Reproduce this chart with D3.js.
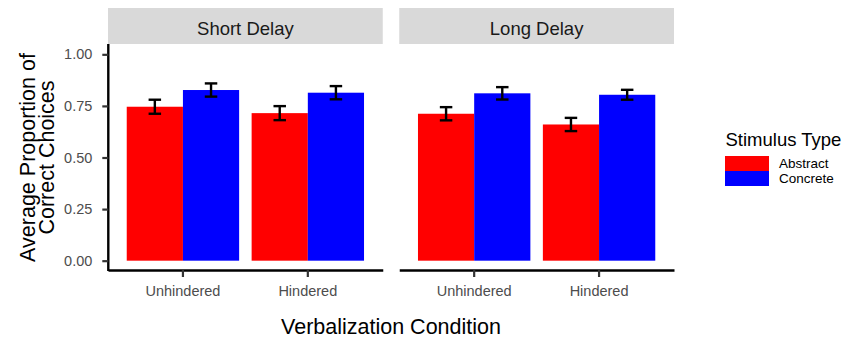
<!DOCTYPE html>
<html>
<head>
<meta charset="utf-8">
<script src="https://cdn.jsdelivr.net/npm/d3@7"></script>
<style>
  html, body { margin: 0; padding: 0; background: #fff; }
  svg { display: block; font-family: "Liberation Sans", Arial, sans-serif; }
</style>
</head>
<body>
<svg id="chart" width="845" height="338"></svg>
<script>
// Facets, x categories and fill groups
const delays = ["Short Delay", "Long Delay"];
const conditions = ["Unhindered", "Hindered"];
const stimulusTypes = ["Abstract", "Concrete"];

// Mean proportion correct, per condition (Unhindered, Hindered)
const shortAbstract = [0.746, 0.715];
const shortConcrete = [0.827, 0.814];
const longAbstract = [0.712, 0.660];
const longConcrete = [0.811, 0.804];

// Standard errors, same order
const shortAbstractSE = [0.034, 0.034];
const shortConcreteSE = [0.032, 0.032];
const longAbstractSE = [0.032, 0.032];
const longConcreteSE = [0.030, 0.024];

const yTicks = [0, 0.25, 0.5, 0.75, 1.0];

const colors = { Abstract: "#ff0000", Concrete: "#0000ff" };

const means = {
  "Short Delay": { Abstract: shortAbstract, Concrete: shortConcrete },
  "Long Delay": { Abstract: longAbstract, Concrete: longConcrete }
};
const ses = {
  "Short Delay": { Abstract: shortAbstractSE, Concrete: shortConcreteSE },
  "Long Delay": { Abstract: longAbstractSE, Concrete: longConcreteSE }
};

const rows = [];
delays.forEach(d => conditions.forEach((c, i) => stimulusTypes.forEach(t => {
  rows.push({ delay: d, condition: c, type: t, mean: means[d][t][i], se: ses[d][t][i] });
})));

const svg = d3.select("#chart");

// Layout
const panelTop = 44, panelBottom = 271;
const stripTop = 8;
const panelsLeft = 108, panelsRight = 674;

const panelX = d3.scaleBand().domain(delays).range([panelsLeft, panelsRight]).paddingInner(0.0566);
const panelW = panelX.bandwidth();

const y = d3.scaleLinear().domain([-0.05, 1.05]).range([panelBottom, panelTop]);

const x = d3.scaleBand().domain(conditions).range([0, panelW]).paddingInner(0.1).paddingOuter(0.15);
const xType = d3.scaleBand().domain(stimulusTypes).range([0, x.bandwidth()]);

const textDark = "#1a1a1a", tickGrey = "#4d4d4d";

delays.forEach((d, pi) => {
  const g = svg.append("g").attr("transform", `translate(${panelX(d)},0)`);

  // Strip
  g.append("rect")
    .attr("x", 0).attr("y", stripTop)
    .attr("width", panelW).attr("height", panelTop - stripTop)
    .attr("fill", "#d9d9d9");
  g.append("text")
    .attr("x", panelW / 2).attr("y", 35)
    .attr("text-anchor", "middle")
    .attr("font-size", 18.5)
    .attr("fill", textDark)
    .text(d);

  const data = rows.filter(r => r.delay === d);

  // Bars
  g.selectAll("rect.bar").data(data).enter().append("rect")
    .attr("class", "bar")
    .attr("x", r => x(r.condition) + xType(r.type))
    .attr("width", xType.bandwidth())
    .attr("y", r => y(r.mean))
    .attr("height", r => y(0) - y(r.mean))
    .attr("fill", r => colors[r.type]);

  // Error bars
  const capHalf = x.step() * 0.05;
  const eb = g.selectAll("g.err").data(data).enter().append("g")
    .attr("class", "err")
    .attr("stroke", "#000").attr("stroke-width", 2.4).attr("fill", "none");
  const cx = r => x(r.condition) + xType(r.type) + xType.bandwidth() / 2;
  eb.append("line")
    .attr("x1", cx).attr("x2", cx)
    .attr("y1", r => y(r.mean + r.se)).attr("y2", r => y(r.mean - r.se));
  eb.append("line")
    .attr("x1", r => cx(r) - capHalf).attr("x2", r => cx(r) + capHalf)
    .attr("y1", r => y(r.mean + r.se)).attr("y2", r => y(r.mean + r.se));
  eb.append("line")
    .attr("x1", r => cx(r) - capHalf).attr("x2", r => cx(r) + capHalf)
    .attr("y1", r => y(r.mean - r.se)).attr("y2", r => y(r.mean - r.se));

  // X axis
  const xAxis = g.append("g")
    .attr("transform", `translate(0,${panelBottom - 1})`)
    .call(d3.axisBottom(x).tickSize(7).tickPadding(9).tickSizeOuter(0));
  xAxis.select(".domain").attr("stroke", "#000").attr("stroke-width", 2.4);
  xAxis.selectAll(".tick line").attr("stroke", "#333").attr("stroke-width", 2.2);
  xAxis.selectAll(".tick text")
    .attr("font-size", 14.5).attr("fill", tickGrey)
    .attr("font-family", "'Liberation Sans', Arial, sans-serif");

  // Y axis on the first panel only
  if (pi === 0) {
    const yAxis = g.append("g")
      .attr("transform", "translate(0.3,0)")
      .call(d3.axisLeft(y).tickValues(yTicks).tickFormat(d3.format(".2f"))
        .tickSize(6).tickPadding(10).tickSizeOuter(0));
    yAxis.select(".domain").attr("stroke", "#000").attr("stroke-width", 2.4)
      .attr("d", `M0,${panelTop}V${panelBottom}`);
    yAxis.selectAll(".tick line").attr("stroke", "#333").attr("stroke-width", 2.2);
    yAxis.selectAll(".tick text")
      .attr("font-size", 14.5).attr("fill", tickGrey)
      .attr("font-family", "'Liberation Sans', Arial, sans-serif");
  }
});

// Axis titles
svg.append("text")
  .attr("x", (panelsLeft + panelsRight) / 2).attr("y", 334)
  .attr("text-anchor", "middle")
  .attr("font-size", 21.5).attr("fill", "#000")
  .text("Verbalization Condition");

const yTitle = svg.append("text")
  .attr("transform", `translate(0,${(panelTop + panelBottom) / 2}) rotate(-90)`)
  .attr("text-anchor", "middle")
  .attr("font-size", 21.5).attr("fill", "#000");
yTitle.append("tspan").attr("x", 0).attr("y", 34.5).text("Average Proportion of");
yTitle.append("tspan").attr("x", 0).attr("y", 53.5).text("Correct Choices");

// Legend
const keyH = 15;
const legend = svg.append("g").attr("transform", "translate(725,0)");
legend.append("text")
  .attr("x", 0.5).attr("y", 146)
  .attr("font-size", 18.5).attr("fill", "#000")
  .text("Stimulus Type");
stimulusTypes.forEach((t, i) => {
  const ky = 156 + i * keyH;
  legend.append("rect")
    .attr("x", 0).attr("y", ky).attr("width", 44).attr("height", keyH)
    .attr("fill", colors[t]);
  legend.append("text")
    .attr("x", 54).attr("y", ky + keyH / 2)
    .attr("dy", "0.35em")
    .attr("font-size", 13.5).attr("fill", "#000")
    .text(t);
});
</script>
</body>
</html>
